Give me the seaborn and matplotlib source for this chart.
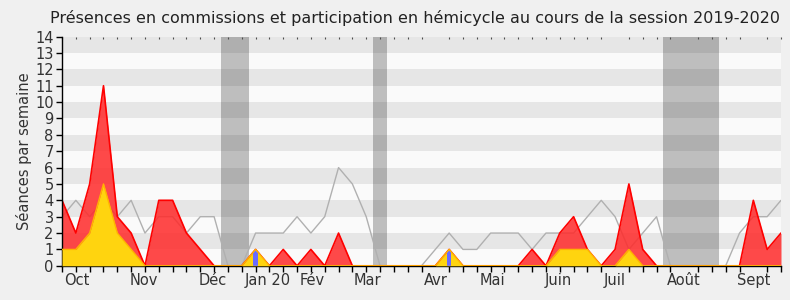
import numpy as np
import pandas as pd
import matplotlib
matplotlib.use("Agg")
import matplotlib.pyplot as plt
from matplotlib.path import Path
import seaborn as sns

# ---- data (weekly, week 0 = first week of the session) ----
weeks = list(range(53))
commission = [4, 2, 5, 11, 3, 2, 0, 4, 4, 2, 1, 0, 0, 0, 1, 0, 1, 0, 1, 0,
              2, 0, 0, 0, 0, 0, 0, 0, 1, 0, 0, 0, 0, 0, 1, 0, 2, 3, 1, 0,
              1, 5, 1, 0, 0, 0, 0, 0, 0, 0, 4, 1, 2]
hemicycle = [1, 1, 2, 5, 2, 1, 0, 0, 0, 0, 0, 0, 0, 0, 1, 0, 0, 0, 0, 0,
             0, 0, 0, 0, 0, 0, 0, 0, 1, 0, 0, 0, 0, 0, 0, 0, 1, 1, 1, 0,
             0, 1, 0, 0, 0, 0, 0, 0, 0, 0, 0, 0, 0]
median_deputes = [3, 4, 3, 4, 3, 4, 2, 3, 3, 2, 3, 3, 0, 0, 2, 2, 2, 3, 2, 3,
                  6, 5, 3, 0, 0, 0, 0, 1, 2, 1, 1, 2, 2, 2, 1, 2, 2, 2, 3, 4,
                  3, 1, 2, 3, 0, 0, 0, 0, 0, 2, 3, 3, 4]
questions_weeks = [14, 28]
questions_values = [1, 1]
vacances = [(11.5, 13.5), (22.5, 23.5), (43.5, 47.5)]
month_labels = ["Oct", "Nov", "Déc", "Jan 20", "Fév", "Mar", "Avr", "Mai",
                "Juin", "Juil", "Août", "Sept"]
month_pos = [1.1, 5.9, 10.9, 14.9, 18.1, 22.1, 27.0, 31.1, 35.9, 40.0, 45.0, 50.0]

df = pd.DataFrame({"week": weeks, "commission": commission,
                   "hemicycle": hemicycle, "median": median_deputes})

sns.set_theme(style="white")
plt.rcParams["font.family"] = ["DejaVu Sans"]

fig = plt.figure(figsize=(7.9, 3.0), dpi=100, facecolor="#f0f0f0")
ax = fig.add_axes([0.0785, 0.114, 0.9101, 0.764])
ax.set_facecolor("#fafafa")

# vacation bands
for a, b in vacances:
    ax.axvspan(a, b, color="#bebebe", lw=0, zorder=0.5)
# horizontal stripes
for y0 in range(1, 14, 2):
    ax.axhspan(y0, y0 + 1, color="black", alpha=0.08, lw=0, zorder=0.6)

# median line
sns.lineplot(data=df, x="week", y="median", ax=ax, color="#b0b0b0",
             lw=1, zorder=1, legend=False)

# commission area (red)
ax.fill_between(df["week"], 0, df["commission"], color="#ff2a2a",
                alpha=0.85, lw=0, zorder=2)
sns.lineplot(data=df, x="week", y="commission", ax=ax, color="#ff0000",
             lw=1.2, zorder=2.1, legend=False)

# hemicycle area (yellow)
ax.fill_between(df["week"], 0, df["hemicycle"], color="#ffd40f",
                lw=0, zorder=3)
sns.lineplot(data=df, x="week", y="hemicycle", ax=ax, color="#ffb400",
             lw=1.0, zorder=3.1, legend=False)

# questions (blue bars) clipped to the yellow area
verts = [(w, h) for w, h in zip(weeks, hemicycle)] + [(weeks[-1], 0), (weeks[0], 0)]
clip = Path(verts)
bars = ax.bar(questions_weeks, questions_values, width=0.32, color="#6b6bff",
              lw=0, zorder=3.05)
for p in bars.patches:
    p.set_clip_path(clip, ax.transData)

ax.set_xlim(0, 52)
ax.set_ylim(0, 14)
ax.set_yticks(range(0, 15))
ax.set_xticks(month_pos)
ax.set_xticklabels(month_labels)
ax.set_xticks(weeks, minor=True)
ax.tick_params(axis="x", which="major", length=0, labelsize=10.5,
               colors="#333333", pad=5)
ax.tick_params(axis="x", which="minor", length=4, width=1, color="black",
               bottom=True, top=True, direction="out")
ax.tick_params(axis="y", which="major", length=4, width=1, color="black",
               left=True, labelsize=10.5, labelcolor="#333333", pad=2)
# tiny top ticks (dots)
for t in ax.xaxis.get_minor_ticks():
    t.tick2line.set_marker(3)
    t.tick2line.set_markersize(1.2)
    t.tick2line.set_markeredgewidth(0.8)
    t.tick2line.set_markeredgecolor("#555555")

ax.set_xlabel("")
ax.set_ylabel("Séances par semaine", fontsize=10.5, color="#333333", labelpad=2)

for s in ["top", "right"]:
    ax.spines[s].set_visible(False)
ax.spines["left"].set_color("black")
ax.spines["bottom"].set_color("black")
ax.spines["left"].set_linewidth(1)
ax.spines["bottom"].set_linewidth(1)

fig.text(0.525, 0.965, "Présences en commissions et participation en hémicycle au cours de la session 2019-2020",
         ha="center", va="top", fontsize=11.5, color="#222222")

fig.savefig("out.png", dpi=100, facecolor=fig.get_facecolor())
